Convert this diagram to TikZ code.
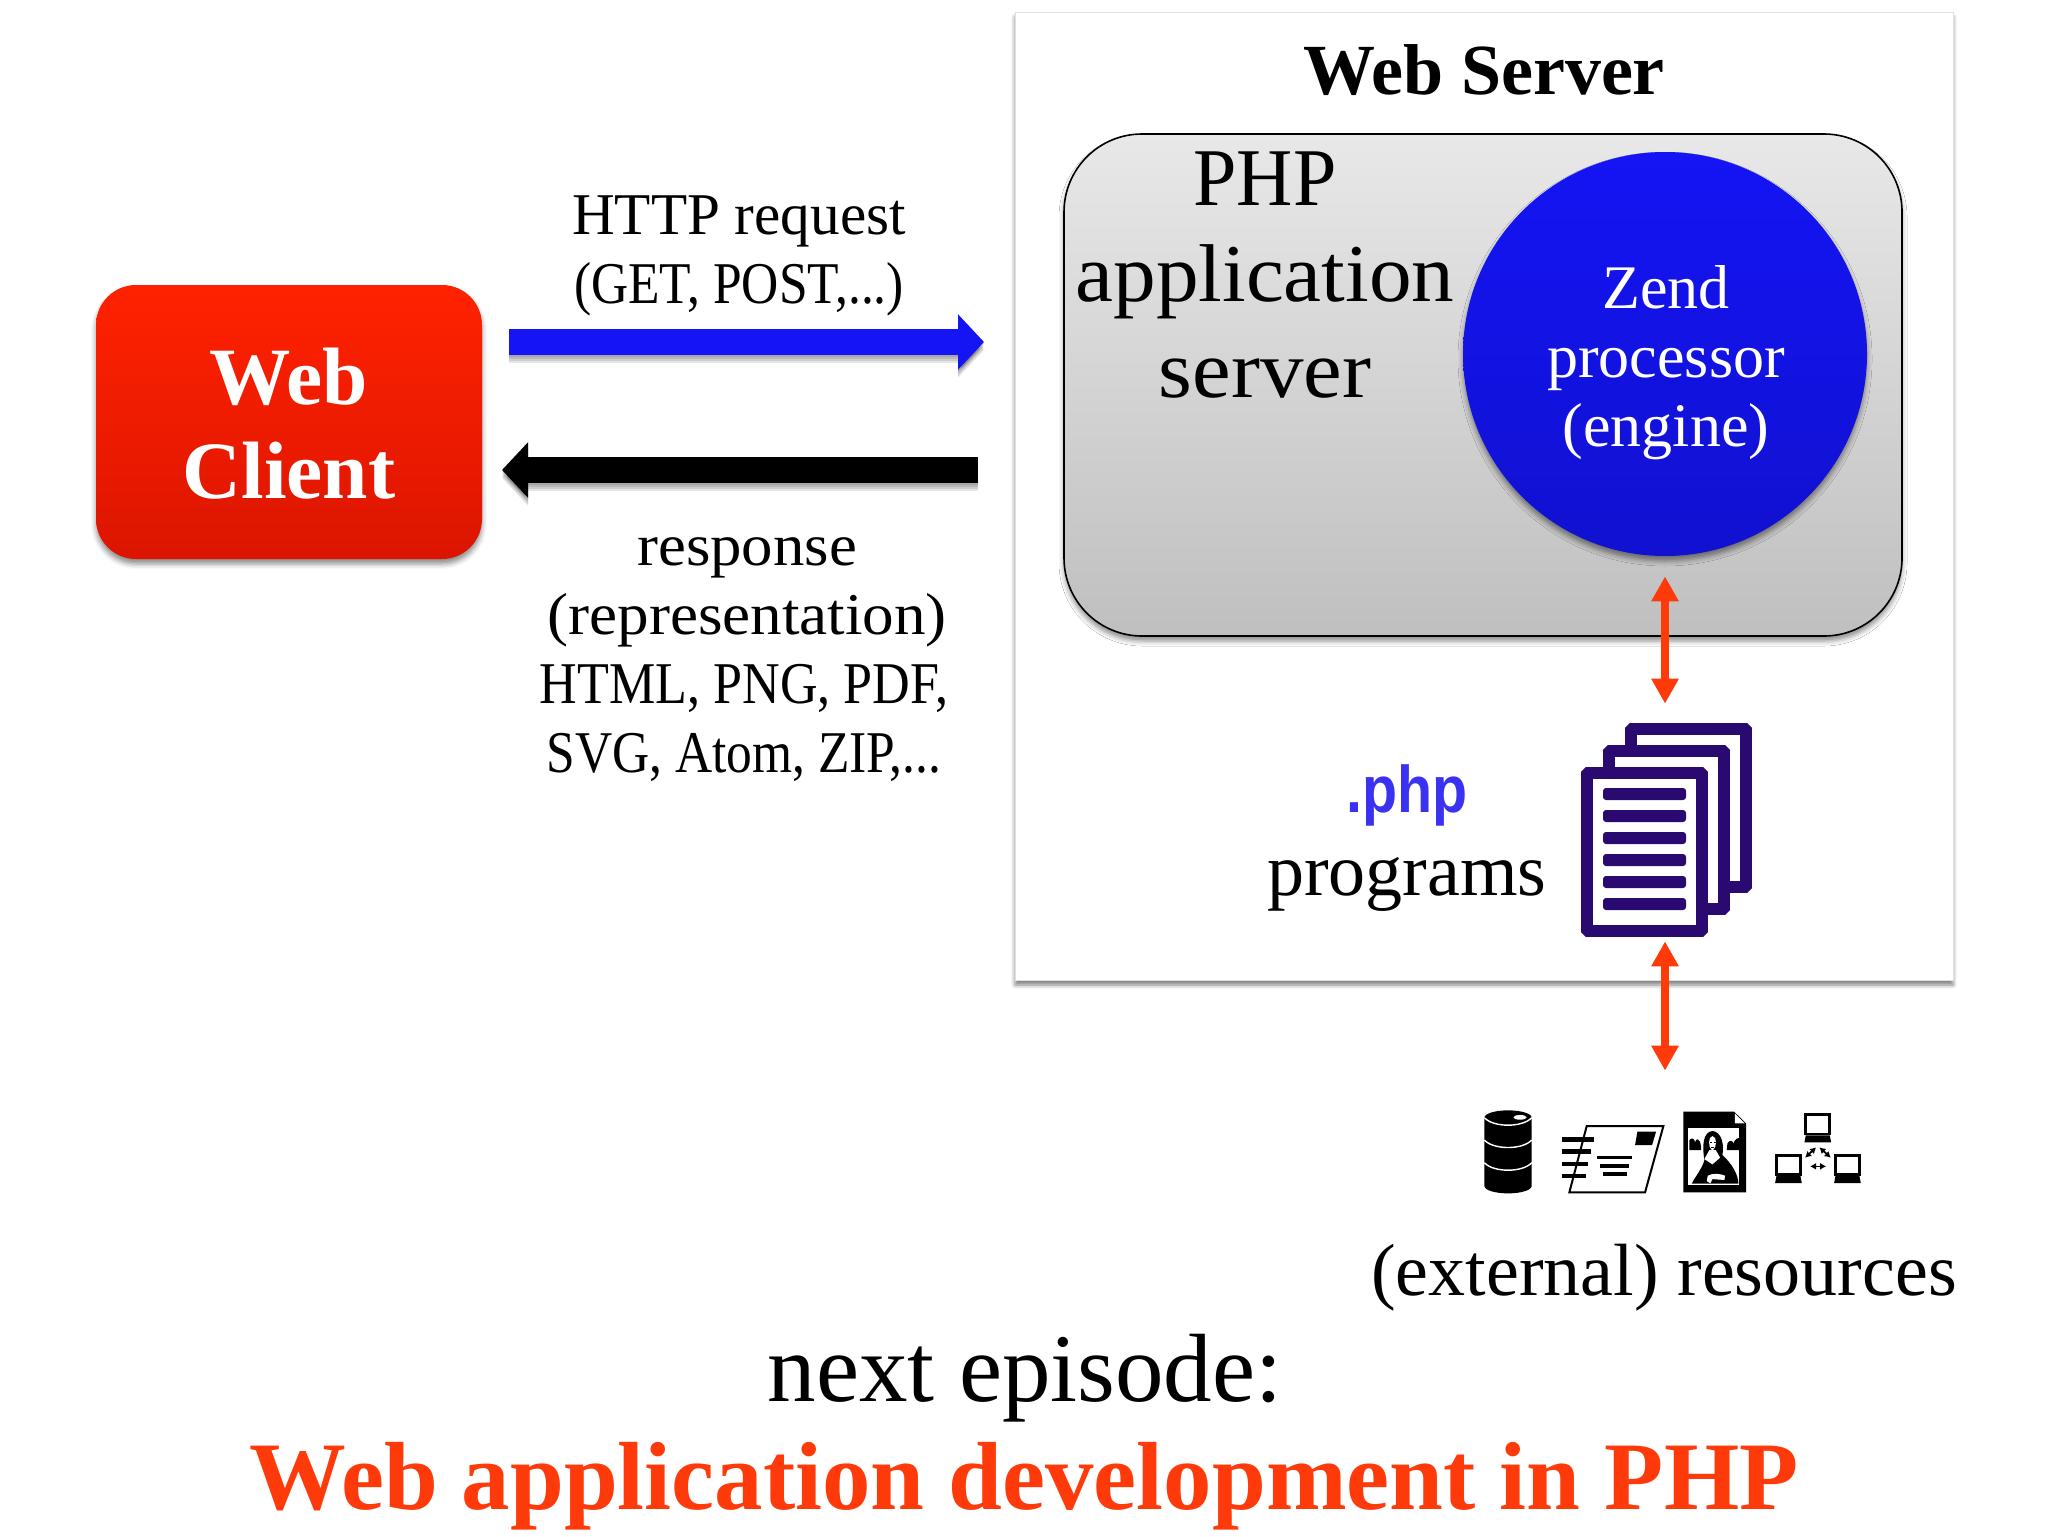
\documentclass[tikz,border=0pt]{standalone}
\usepackage{fontspec}
\setmainfont{Liberation Serif}
\newfontfamily\narrowsans[FakeStretch=0.87]{Liberation Sans}
\usetikzlibrary{arrows.meta,shadows.blur}
\definecolor{hotred}{HTML}{FF3A0A}
\definecolor{docblue}{HTML}{2A0A70}
\definecolor{phpblue}{HTML}{3A32F0}
\definecolor{reqblue}{HTML}{1414F5}
\definecolor{clienttop}{HTML}{FF2200}
\definecolor{clientbot}{HTML}{DC1500}
\newcommand{\squeezed}[2]{\scalebox{#1}[1]{#2}}
\tikzset{
  txt/.style 2 args={font=\fontsize{#1}{#2}\selectfont,align=center,inner sep=0pt},
  soft/.style={blur shadow={shadow xshift=0pt,shadow yshift=-2.5pt,shadow blur radius=2.5pt,shadow opacity=45}},
  bigarrow/.style={line width=13pt,-{Triangle[length=13pt,width=27pt]}},
  redarrow/.style={draw=hotred,line width=4pt,{Triangle[length=12.5pt,width=13pt]}-{Triangle[length=12.5pt,width=13pt]}},
  page/.style={draw=docblue,fill=white,line width=5.8pt,rounded corners=.5pt},
  bar/.style={fill=docblue,rounded corners=1.5pt},
  netarrow/.style={line width=.9pt,{Latex[length=3pt,width=3.5pt]}-{Latex[length=3pt,width=3.5pt]}}
}
\begin{document}
\begin{tikzpicture}[x=0.5pt,y=-0.5pt]
  \useasboundingbox (0,0) rectangle (2048,1536);

  % Web server
  \node[draw=black!12,fill=white,minimum width=469pt,minimum height=484pt,inner sep=0pt,
        blur shadow={shadow xshift=0pt,shadow yshift=-2.5pt,shadow blur radius=2pt,shadow opacity=50}]
        (server) at (1484,496) {};
  \node[txt={36}{40},font=\fontsize{36}{40}\selectfont\bfseries] (servertitle) at (1484,70) {Web Server};

  % PHP application server
  \node[draw=black,line width=.8pt,rounded corners=39pt,top color=black!9,bottom color=black!25,
        minimum width=419pt,minimum height=251pt,inner sep=0pt,soft] (phpbox) at (1483,385) {};
  \node[txt={41}{48}] (phptext) at (1265,275) {\squeezed{.95}{PHP}\\\squeezed{1.04}{application}\\\squeezed{1.06}{server}};

  % Zend circle
  \node[circle,top color=reqblue,bottom color=reqblue!85!black,minimum size=202pt,inner sep=0pt,soft] (zend) at (1665,354) {};
  \node[text=white,txt={31}{34.5}] (zendtext) at (1666,363) {Zend\\processor\\(engine)};

  % Web client
  \node[rounded corners=20pt,top color=clienttop,bottom color=clientbot,minimum width=193pt,minimum height=137pt,
        inner sep=0pt,soft] (client) at (289,422) {};
  \node[text=white,font=\fontsize{40.7}{47}\selectfont\bfseries,align=center,inner sep=0pt] (clienttext) at (289,424) {Web\\Client};

  % Arrows between client and server
  \coordinate (reqstart) at (509,342);
  \coordinate (reqend) at (984,342);
  \coordinate (respstart) at (978,470);
  \coordinate (respend) at (502,470);
  \foreach \sh in {1,...,4} {
    \draw[bigarrow,draw=black,opacity=.1] ([yshift=-\sh pt]reqstart) -- ([yshift=-\sh pt]reqend);
    \draw[bigarrow,draw=black,opacity=.1] ([yshift=-\sh pt]respstart) -- ([yshift=-\sh pt]respend);
  }
  \draw[bigarrow,draw=reqblue] (reqstart) -- (reqend);
  \draw[bigarrow,draw=black] (respstart) -- (respend);
  \node[txt={29.6}{34.5}] (reqtext) at (739,256) {HTTP request\\\squeezed{.87}{(GET, POST,...)}};
  \node[txt={29.6}{34.5}] (resptext) at (744,660) {\squeezed{1.06}{\hspace{3pt}response}\\\squeezed{1.066}{\hspace{3pt}(representation)}\\\squeezed{.88}{HTML, PNG, PDF,}\\\squeezed{.87}{SVG, Atom, ZIP,...}};

  % Programs
  \node[txt={33}{40},font=\fontsize{33}{40}\selectfont\narrowsans\bfseries,text=phpblue] (phplabel) at (1407,795) {.php};
  \node[txt={37}{40}] (proglabel) at (1407,884) {programs};
  \node[minimum width=85.5pt,minimum height=107.5pt,inner sep=0pt] (docs) at (1666.5,829.5) {};
  \foreach \dd in {44,22,0}
    \draw[page] ({1587+\dd},{773-\dd}) rectangle ({1702+\dd},{931-\dd});
  \foreach \ii in {0,...,5}
    \fill[bar] (1603,{788+22*\ii}) rectangle (1686,{800+22*\ii});

  % Resources icons
  \node[minimum width=188pt,minimum height=42pt,inner sep=0pt] (res) at (1672,1151) {};
  \begin{scope}[shift={(1440,1080)},x=0.1667pt,y=-0.1667pt]
    % barrel
    \fill (133,113) arc[start angle=180,end angle=360,x radius=71,y radius=22] -- (275,318)
          arc[start angle=0,end angle=180,x radius=71,y radius=22] -- cycle;
    \fill[white] (240,112) ellipse (20 and 7);
    \foreach \yy in {113,180,248}
      \draw[white,line width=.7pt] (133,\yy) .. controls (160,{\yy+30}) and (248,{\yy+30}) .. (275,\yy);
    % postcard
    \draw[line width=1pt,fill=white] (440,138) -- (670,138) -- (615,337) -- (388,337) -- cycle;
    \fill (592,155) -- (648,155) -- (636,195) -- (585,195) -- cycle;
    \foreach \yy/\xx in {178/463,215/452,252/445,288/437}
      \draw[line width=2.2pt] (367,\yy) -- (\xx,\yy);
    \foreach \yy/\xa/\xb in {232/470/575,257/480/568,282/488/560}
      \draw[line width=1.8pt] (\xa,\yy) -- (\xb,\yy);
    % picture file
    \fill (730,95) -- (882,95) -- (918,130) -- (918,337) -- (730,337) -- cycle;
    \fill[white] (884,100) -- (914,130) -- (884,130) -- cycle;
    \begin{scope}[shift={(705,75)}]
      \fill[white] (40,68) rectangle (193,240);
      \fill (43,135) -- (43,105) .. controls (50,96) and (58,100) .. (60,112) .. controls (62,98) and (75,98) .. (78,125) -- (78,135) -- cycle;
      \fill (155,135) -- (157,115) .. controls (163,104) and (173,106) .. (175,115) .. controls (180,100) and (190,98) .. (193,100) -- (193,135) -- cycle;
      \fill (50,236) .. controls (60,215) and (82,190) .. (88,165) .. controls (80,120) and (85,80) .. (112,78)
            .. controls (140,80) and (148,120) .. (142,150) .. controls (170,175) and (190,210) .. (190,236) -- cycle;
      \fill[white] (112,93) .. controls (100,95) and (97,125) .. (112,138) .. controls (127,125) and (126,95) .. (112,93) -- cycle;
      \fill[white] (103,135) -- (122,135) -- (135,158) -- (112,178) -- (88,162) -- cycle;
      \fill[white] (98,212) .. controls (115,203) and (135,206) .. (150,212) -- (148,225) -- (112,222) -- (106,235) -- (95,228) -- cycle;
      \fill (104,110) rectangle (110,112);
      \fill (116,110) rectangle (122,112);
      \fill (108,126) rectangle (118,128);
    \end{scope}
    % network
    \foreach \cx/\cy in {1133/100,1045/222,1222/222} {
      \draw[line width=1.4pt,fill=white] ({\cx-36},{\cy+4}) rectangle ({\cx+36},{\cy+62});
      \fill ({\cx-36},{\cy+66}) -- ({\cx+36},{\cy+66}) -- ({\cx+40},{\cy+87}) -- ({\cx-40},{\cy+87}) -- cycle;
    }
    \draw[netarrow] (1095,233) -- (1128,202);
    \draw[netarrow] (1138,202) -- (1172,233);
    \draw[netarrow,line width=.6pt] (1110,259) -- (1158,259);
  \end{scope}

  % Red arrows
  \draw[redarrow,shorten <=10pt,shorten >=9pt] (zend.south) -- (zend.south |- docs.north);
  \draw[redarrow,shorten <=2pt,shorten >=19pt] (docs.south -| zend.south) -- (zend.south |- res.north);

  % Bottom texts
  \node[txt={37}{40}] (restext) at (1664,1278) {(external) resources};
  \node[txt={48.5}{50}] (nexttext) at (1025,1378) {next episode:};
  \node[txt={48.4}{50},font=\fontsize{48.4}{50}\selectfont\bfseries,text=hotred] (titletext) at (1024,1486) {Web application development in PHP};
\end{tikzpicture}
\end{document}
